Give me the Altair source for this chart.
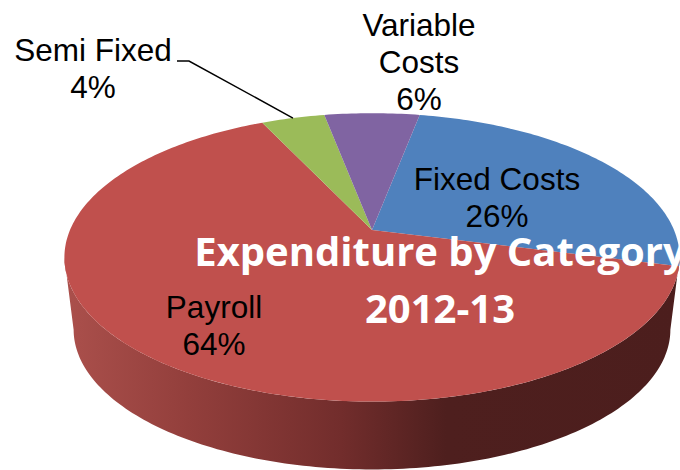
import math
import altair as alt

# Expenditure shares, in percent, clockwise from the first slice
categories = ["Fixed Costs", "Payroll", "Semi Fixed", "Variable Costs"]
shares = [26, 64, 4, 6]
colors = ["#4F81BD", "#C0504D", "#9BBB59", "#8064A2"]

label_lines = ["Fixed Costs", "Payroll", "Semi Fixed", "Variable\nCosts"]
label_x = [497, 214, 93, 419]
label_y = [190, 318, 61, 36]

title_lines = ["Expenditure by Category", "2012-13"]
title_y = [266, 323]

W, H = 680, 470
START_DEG = 10.8
PERSPECTIVE = 0.19


def project(theta_deg, cx=372.0, cy=230.0, scale=1.0):
    """Place an angle on the pie's rim, seen in perspective, in page pixels."""
    t = math.radians(theta_deg)
    u, v = math.sin(t), math.cos(t)
    w = 1 + PERSPECTIVE * v
    return [cx + scale * 302 * u / w, cy - scale * 139 * v / w]


def rim(a, b, **kw):
    n = max(2, int(abs(b - a)) + 1)
    return [project(a + (b - a) * i / (n - 1), **kw) for i in range(n)]


def feature(name, coords, kind="Polygon"):
    geometry = {"type": kind, "coordinates": [coords] if kind == "Polygon" else coords}
    return {"type": "Feature", "properties": {"name": name}, "geometry": geometry}


# Top surface: one sector per category
slices = []
angle = START_DEG
mids = {}
for name, share in zip(categories, shares):
    sweep = share * 3.6
    ring = [[372.0, 230.0]] + rim(angle, angle + sweep) + [[372.0, 230.0]]
    slices.append(feature(name, ring))
    mids[name] = angle + sweep / 2
    angle += sweep

# Side wall: near half of the upper rim joined to the lower rim
lower = dict(cy=303.0, scale=0.97)
wall_ring = rim(101, 259) + rim(259, 101, **lower)
wall_ring.append(wall_ring[0])
wall_feature = feature("wall", wall_ring)

# Leader line from the Semi Fixed label to its slice
leader_feature = feature(
    "leader", [[177, 61], [189, 61], project(mids["Semi Fixed"])], kind="LineString"
)

identity = dict(type="identity", scale=1, translate=[0, 0])

wall = (
    alt.Chart(alt.Data(values=[wall_feature]))
    .mark_geoshape(
        strokeWidth=0,
        fill=alt.Gradient(
            gradient="linear",
            x1=0, x2=1, y1=0, y2=0,
            stops=[
                alt.GradientStop(color="#AB504C", offset=0),
                alt.GradientStop(color="#933F3C", offset=0.2),
                alt.GradientStop(color="#722D2C", offset=0.45),
                alt.GradientStop(color="#4E1F1E", offset=0.62),
                alt.GradientStop(color="#4C1E1D", offset=1),
            ],
        ),
    )
    .project(**identity)
)

top = (
    alt.Chart(alt.Data(values=slices))
    .mark_geoshape(strokeWidth=0)
    .encode(
        color=alt.Color(
            "properties.name:N",
            scale=alt.Scale(domain=categories, range=colors),
            legend=None,
        )
    )
    .project(**identity)
)

leader = (
    alt.Chart(alt.Data(values=[leader_feature]))
    .mark_geoshape(filled=False, stroke="#000000", strokeWidth=1.5)
    .project(**identity)
)

label_rows = [
    {"text": f"{line}\n{share}%", "x": x, "y": y}
    for line, share, x, y in zip(label_lines, shares, label_x, label_y)
]
labels = (
    alt.Chart(alt.Data(values=label_rows))
    .mark_text(
        font="Liberation Sans",
        fontSize=31.5,
        color="#000000",
        align="center",
        baseline="alphabetic",
        lineBreak="\n",
        lineHeight=37,
    )
    .encode(
        x=alt.X("x:Q", scale=None, axis=None),
        y=alt.Y("y:Q", scale=None, axis=None),
        text="text:N",
    )
)

title_rows = [{"text": t, "x": 440, "y": y} for t, y in zip(title_lines, title_y)]
title = (
    alt.Chart(alt.Data(values=title_rows))
    .mark_text(
        font="Open Sans",
        fontSize=40,
        fontWeight="bold",
        color="#FFFFFF",
        align="center",
        baseline="alphabetic",
    )
    .encode(
        x=alt.X("x:Q", scale=None, axis=None),
        y=alt.Y("y:Q", scale=None, axis=None),
        text="text:N",
    )
)

chart = (
    alt.layer(wall, top, leader, labels, title)
    .properties(
        width=W,
        height=H,
        padding=0,
        autosize=alt.AutoSizeParams(type="none"),
        background="#FFFFFF",
    )
    .configure_view(stroke=None)
)

chart.save("out.html", embed_options={"renderer": "svg", "actions": False})
